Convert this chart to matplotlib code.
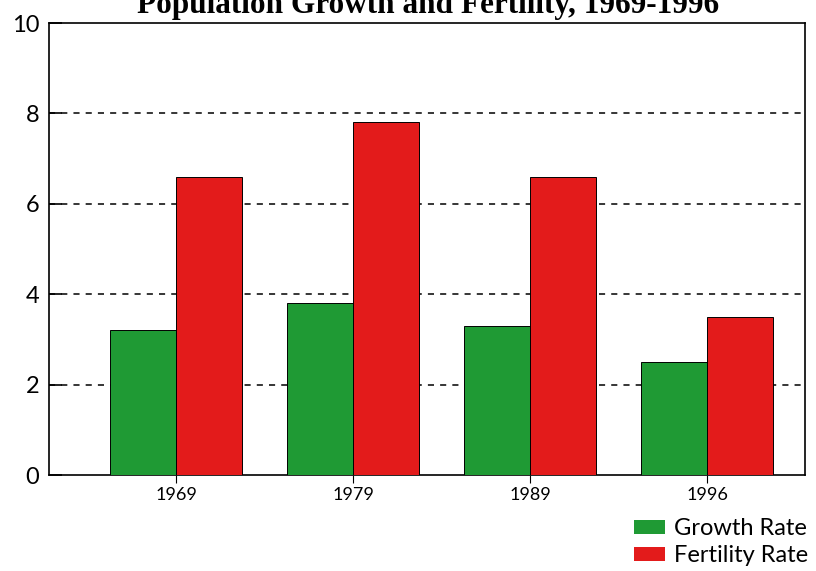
import numpy as np
import matplotlib.pyplot as plt
from matplotlib.patches import Patch

years = ["1969", "1979", "1989", "1996"]
growth_rate = [3.2, 3.8, 3.3, 2.5]
fertility_rate = [6.6, 7.8, 6.6, 3.5]

green = "#1f9a34"
red = "#e31b1b"

plt.rcParams['font.family'] = ['Lato', 'DejaVu Sans']

fig = plt.figure(figsize=(8.16, 5.71), dpi=100)
ax = fig.add_axes([49/816, 1-475/571, (805-49)/816, (475-23)/571])

x = np.arange(len(years))
w = 0.375
ax.bar(x - w/2, growth_rate, w, color=green, edgecolor="black", linewidth=0.7, zorder=3)
ax.bar(x + w/2, fertility_rate, w, color=red, edgecolor="black", linewidth=0.7, zorder=3)

ax.set_ylim(0, 10)
ax.set_xlim(-0.718, 3.553)
ax.set_yticks([0, 2, 4, 6, 8, 10])
ax.set_xticks(x)
ax.set_xticklabels(years)
ax.tick_params(axis='y', direction='in', length=9, width=1.2, labelsize=17, pad=7)
ax.tick_params(axis='x', direction='out', length=6, width=0.8, labelsize=13, pad=3)

for y in [2, 4, 6, 8]:
    ax.axhline(y, color="black", linestyle=(0, (4, 4)), linewidth=1.1, zorder=1)

for s in ax.spines.values():
    s.set_linewidth(1.2)

fig.text(428/816, 1-13/571, "Population Growth and Fertility, 1969-1996",
         ha="center", va="baseline", fontsize=22.5, fontweight="bold",
         family="Liberation Serif")

handles = [Patch(facecolor=green, edgecolor="none"),
           Patch(facecolor=red, edgecolor="none")]
fig.legend(handles, ["Growth Rate", "Fertility Rate"],
           loc="lower right", bbox_to_anchor=(1.005, -0.012),
           frameon=False, fontsize=17, handlelength=1.3, handleheight=0.55,
           handletextpad=0.4, labelspacing=0.25, borderaxespad=0.1)

fig.savefig("out.png", dpi=100)
